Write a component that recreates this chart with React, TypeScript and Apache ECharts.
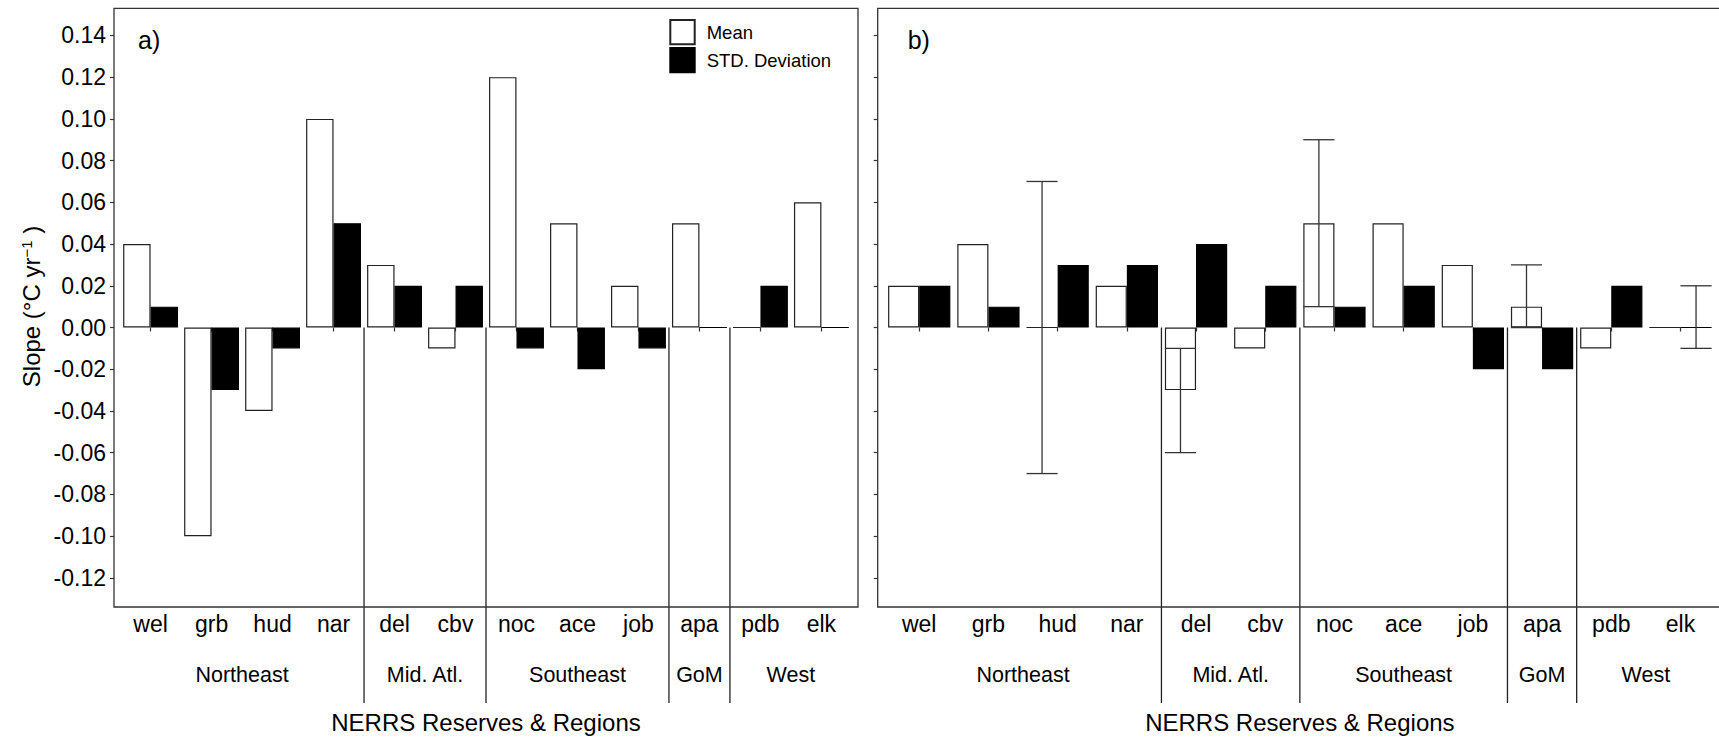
import React, { useEffect, useRef } from 'react';
import * as echarts from 'echarts';

// ---------- data ----------
const categories = ['wel', 'grb', 'hud', 'nar', 'del', 'cbv', 'noc', 'ace', 'job', 'apa', 'pdb', 'elk'];
const regionNames = ['Northeast', 'Mid. Atl.', 'Southeast', 'GoM', 'West'];
const regionSizes = [4, 2, 3, 1, 2];
const yTicks = [-0.12, -0.1, -0.08, -0.06, -0.04, -0.02, 0, 0.02, 0.04, 0.06, 0.08, 0.1, 0.12, 0.14];

const meanA = [0.04, -0.1, -0.04, 0.1, 0.03, -0.01, 0.12, 0.05, 0.02, 0.05, 0, 0.06];
const sdA = [0.01, -0.03, -0.01, 0.05, 0.02, 0.02, -0.01, -0.02, -0.01, 0, 0.02, 0];
const meanB = [0.02, 0.04, 0, 0.02, -0.03, -0.01, 0.05, 0.05, 0.03, 0.01, -0.01, 0];
const sdB = [0.02, 0.01, 0.03, 0.03, 0.04, 0.02, 0.01, 0.02, -0.02, -0.02, 0.02, 0];

const errCats = ['hud', 'del', 'noc', 'apa', 'elk'];
const errGroups = ['Mean', 'Mean', 'Mean', 'Mean', 'STD. Deviation'];
const errLow = [-0.07, -0.06, 0.01, 0, -0.01];
const errHigh = [0.07, -0.01, 0.09, 0.03, 0.02];

// ---------- layout ----------
const W = 1719;
const H = 739;
const FONT = '"Liberation Sans", Arial, Helvetica, sans-serif';
const PANEL_TOP = 8.3;
const PANEL_BOTTOM = 607;
const Y_MIN = -0.133;
const Y_MAX = 0.153;
const panels = [
  { left: 114, right: 858 },
  { left: 877.7, right: 1722 },
];
const LINE = '#333';

function gridFor(p: { left: number; right: number }) {
  const n = categories.length;
  const band = (p.right - p.left) / (n - 1 + 1.2);
  const left = p.left + 0.1 * band;
  return { left, width: band * n, offset: left - p.left };
}

export default function App() {
  const ref = useRef<HTMLDivElement>(null);

  useEffect(() => {
    if (!ref.current) return;
    const chart = echarts.init(ref.current, undefined, { renderer: 'svg' });

    const grids = panels.map(gridFor);

    // region starts / ends
    const regionData: number[][] = [];
    let start = 0;
    regionSizes.forEach((s) => {
      regionData.push([start, start + s - 1, 0]);
      start += s;
    });

    const regionSeries = (gi: number) => ({
      type: 'custom',
      xAxisIndex: gi,
      yAxisIndex: gi,
      clip: false,
      silent: true,
      z: 4,
      encode: { x: [0, 1], y: 2 },
      data: regionData,
      renderItem: (params: any, api: any) => {
        const s = api.value(0);
        const e = api.value(1);
        const p0 = api.coord([s, 0]);
        const p1 = api.coord([e, 0]);
        const band = api.size([1, 0])[0];
        const children: any[] = [
          {
            type: 'text',
            x: (p0[0] + p1[0]) / 2,
            y: 675,
            style: {
              text: regionNames[params.dataIndex],
              fill: '#000',
              fontSize: 21.5,
              fontFamily: FONT,
              align: 'center',
              verticalAlign: 'middle',
            },
          },
        ];
        if (params.dataIndex < regionData.length - 1) {
          const x = p1[0] + band / 2;
          children.push({
            type: 'line',
            shape: { x1: x, y1: p1[1], x2: x, y2: 703 },
            style: { stroke: '#222', lineWidth: 1.3 },
          });
        }
        return { type: 'group', children };
      },
    });

    const barStyle = (name: string) =>
      name === 'Mean'
        ? { color: '#ffffff', borderColor: '#222', borderWidth: 1.2 }
        : { color: '#000000', borderColor: '#000', borderWidth: 1.2 };

    const bars = (gi: number, mean: number[], sd: number[]) => [
      {
        type: 'bar',
        name: 'Mean',
        xAxisIndex: gi,
        yAxisIndex: gi,
        data: mean,
        barGap: '0%',
        barCategoryGap: '10%',
        itemStyle: barStyle('Mean'),
        z: 2,
      },
      {
        type: 'bar',
        name: 'STD. Deviation',
        xAxisIndex: gi,
        yAxisIndex: gi,
        data: sd,
        barGap: '0%',
        barCategoryGap: '10%',
        itemStyle: barStyle('STD. Deviation'),
        z: 2,
      },
    ];

    const errSeries = {
      type: 'custom',
      xAxisIndex: 1,
      yAxisIndex: 1,
      clip: false,
      silent: true,
      z: 5,
      encode: { x: 0, y: [1, 2] },
      data: errCats.map((c, i) => [categories.indexOf(c), errLow[i], errHigh[i], errGroups[i] === 'Mean' ? 0 : 1]),
      renderItem: (params: any, api: any) => {
        const idx = api.value(0);
        const lo = api.coord([idx, api.value(1)]);
        const hi = api.coord([idx, api.value(2)]);
        const band = api.size([1, 0])[0];
        const barW = (band * 0.9) / 2;
        const cx = lo[0] + (api.value(3) === 0 ? -barW / 2 : barW / 2);
        const st = { stroke: LINE, lineWidth: 1.3 };
        return {
          type: 'group',
          children: [
            { type: 'line', shape: { x1: cx, y1: lo[1], x2: cx, y2: hi[1] }, style: st },
            { type: 'line', shape: { x1: cx - barW / 2, y1: lo[1], x2: cx + barW / 2, y2: lo[1] }, style: st },
            { type: 'line', shape: { x1: cx - barW / 2, y1: hi[1], x2: cx + barW / 2, y2: hi[1] }, style: st },
          ],
        };
      },
    };

    const option: any = {
      animation: false,
      backgroundColor: '#ffffff',
      textStyle: { fontFamily: FONT },
      grid: grids.map((g) => ({
        left: g.left,
        width: g.width,
        top: PANEL_TOP,
        height: PANEL_BOTTOM - PANEL_TOP,
        containLabel: false,
      })),
      legend: {
        data: ['Mean', 'STD. Deviation'],
        orient: 'vertical',
        left: 669.3,
        top: 19,
        padding: 0,
        itemWidth: 24.4,
        itemHeight: 24.3,
        itemGap: 1.7,
        icon: 'rect',
        selectedMode: false,
        textStyle: { fontSize: 18.5, color: '#000', fontFamily: FONT, padding: [0, 0, 0, 7] },
      },
      xAxis: grids.map((g, i) => ({
        type: 'category',
        gridIndex: i,
        data: categories,
        axisLine: { show: false },
        axisTick: { show: true, alignWithLabel: true, length: 4, lineStyle: { color: LINE, width: 1.2 } },
        axisLabel: { fontSize: 23, color: '#000', margin: 7, fontFamily: FONT },
        splitLine: { show: false },
        name: 'NERRS Reserves & Regions',
        nameLocation: 'middle',
        nameGap: 105,
        nameTextStyle: { fontSize: 24, color: '#000', fontFamily: FONT },
      })),
      yAxis: grids.map((g, i) => ({
        type: 'value',
        gridIndex: i,
        min: Y_MIN,
        max: Y_MAX,
        offset: g.offset,
        axisLine: { show: false },
        axisTick: { show: true, length: 4, customValues: yTicks, lineStyle: { color: LINE, width: 1.2 } },
        axisLabel: {
          show: i === 0,
          customValues: yTicks,
          formatter: (v: number) => v.toFixed(2),
          fontSize: 23,
          color: '#000',
          margin: 8,
          fontFamily: FONT,
        },
        splitLine: { show: false },
      })),
      graphic: [
        ...panels.map((p) => ({
          type: 'rect',
          shape: { x: p.left, y: PANEL_TOP, width: p.right - p.left, height: PANEL_BOTTOM - PANEL_TOP },
          style: { fill: 'none', stroke: LINE, lineWidth: 1.3 },
          silent: true,
          z: 10,
        })),
        {
          type: 'text',
          x: 138,
          y: 39.5,
          style: { text: 'a)', fontSize: 25, fill: '#000', fontFamily: FONT, align: 'left', verticalAlign: 'middle' },
        },
        {
          type: 'text',
          x: 907.7,
          y: 39.5,
          style: { text: 'b)', fontSize: 25, fill: '#000', fontFamily: FONT, align: 'left', verticalAlign: 'middle' },
        },
        {
          type: 'text',
          x: 31,
          y: 306.5,
          rotation: Math.PI / 2,
          style: {
            text: 'Slope (°C yr{sup|−1} )',
            fontSize: 24,
            fill: '#000',
            fontFamily: FONT,
            align: 'center',
            verticalAlign: 'middle',
            rich: {
              sup: { fontSize: 15, fontFamily: FONT, fill: '#000', verticalAlign: 'top', lineHeight: 15 },
            },
          },
        },
      ],
      series: [...bars(0, meanA, sdA), ...bars(1, meanB, sdB), errSeries, regionSeries(0), regionSeries(1)],
    };

    chart.setOption(option);
    return () => chart.dispose();
  }, []);

  return (
    <div
      ref={ref}
      style={{ position: 'fixed', left: 0, top: 0, width: W, height: H, background: '#fff' }}
    />
  );
}
